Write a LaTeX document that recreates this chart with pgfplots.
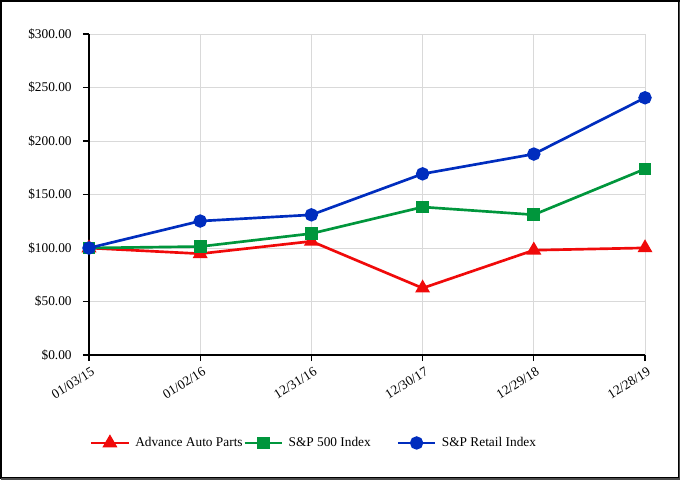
\documentclass[border=0pt]{standalone}
\usepackage{pgfplots}
\pgfplotsset{compat=1.18}
\usepackage{fontspec}
\setmainfont{Liberation Serif}
\definecolor{aapred}{RGB}{240,10,10}
\definecolor{spgreen}{RGB}{0,150,60}
\definecolor{rtblue}{RGB}{0,45,190}
\begin{document}
\begin{tikzpicture}
% page = 680x480 px at 0.75pt per px; axis origin at px (89,355)
\path[use as bounding box] (-66.75pt,-93.75pt) rectangle (443.25pt,266.25pt);
\draw[black, line width=0.9pt] (-66pt,-92.25pt) rectangle (442.5pt,265.5pt);
\draw[black!70, line width=1.2pt] (443pt,265pt) -- (443pt,-92.9pt) -- (-66pt,-92.9pt);
\begin{axis}[
    at={(0pt,0pt)}, anchor=origin,
    scale only axis,
    width=417pt, height=240.75pt,
    xmin=0, xmax=5, ymin=0, ymax=300,
    axis x line*=bottom, axis y line*=left,
    axis line style={black, line width=1pt, -},
    xtick={0,1,2,3,4,5},
    xticklabels={01/03/15,01/02/16,12/31/16,12/30/17,12/29/18,12/28/19},
    ytick={0,50,100,150,200,250,300},
    yticklabels={\$0.00,\$50.00,\$100.00,\$150.00,\$200.00,\$250.00,\$300.00},
    x tick label style={rotate=32, anchor=north east, font=\fontsize{10}{11}\selectfont, inner sep=1pt, yshift=-3pt},
    y tick label style={font=\fontsize{10}{11}\selectfont, xshift=-5pt},
    tick align=outside,
    major tick length=4.5pt,
    tick style={black, line width=0.8pt},
    grid=major,
    major grid style={line width=0.5pt, draw=black!15},
    clip=false,
    legend columns=3,
    legend style={draw=none, fill=none, at={(-0.006,-0.274)}, anchor=west,
        font=\fontsize{10}{11}\selectfont,
        /tikz/every even column/.append style={column sep=3pt},
        /tikz/every odd column/.append style={column sep=2pt}},
    legend cell align=left,
    legend image code/.code={
        \draw[mark repeat=2, mark phase=2, #1] plot coordinates {(0pt,0pt) (14pt,0pt) (28pt,0pt)};
    },
]
\addplot[color=aapred, line width=2pt, mark=triangle*, mark size=4.5pt, mark options={solid}]
    coordinates {(0,100) (1,94.67) (2,106.26) (3,62.5) (4,97.97) (5,100.09)};
\addlegendentry{\makebox[76pt][l]{Advance Auto Parts}}
\addplot[color=spgreen, line width=2pt, mark=square*, mark size=3.8pt]
    coordinates {(0,100) (1,101.38) (2,113.51) (3,138.29) (4,131.1) (5,173.86)};
\addlegendentry{\makebox[76pt][l]{S\&P 500 Index}}
\addplot[color=rtblue, line width=2pt, mark=*, mark size=4pt]
    coordinates {(0,100) (1,125.2) (2,131.0) (3,169.3) (4,187.8) (5,240.4)};
\addlegendentry{S\&P Retail Index}
\end{axis}
\end{tikzpicture}
\end{document}
